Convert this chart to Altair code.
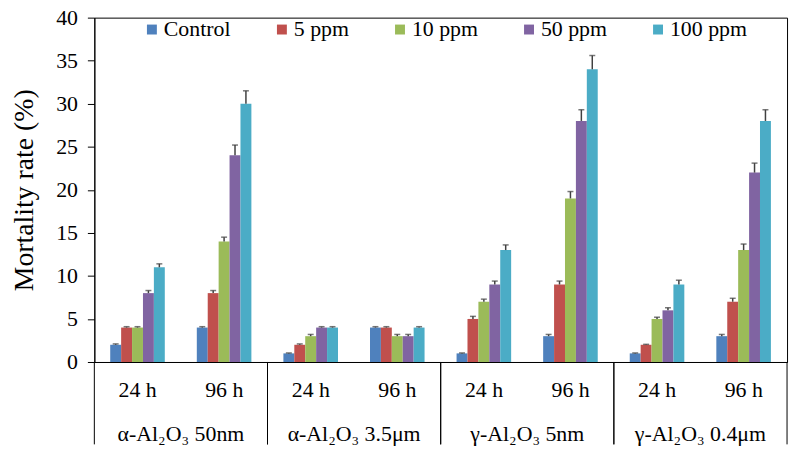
import altair as alt
import pandas as pd

groups = ["α-Al₂O₃ 50nm", "α-Al₂O₃ 3.5μm", "γ-Al₂O₃ 5nm", "γ-Al₂O₃ 0.4μm"]
times = ["24 h", "96 h"]
series = ["Control", "5 ppm", "10 ppm", "50 ppm", "100 ppm"]
colors = ["#4F81BD", "#C0504D", "#9BBB59", "#8064A2", "#4BACC6"]

# values in slot order: (group1 24h, group1 96h, group2 24h, ...)
control = [2, 4, 1, 4, 1, 3, 1, 3]
ppm5 = [4, 8, 2, 4, 5, 9, 2, 7]
ppm10 = [4, 14, 3, 3, 7, 19, 5, 13]
ppm50 = [8, 24, 4, 3, 9, 28, 6, 22]
ppm100 = [11, 30, 4, 4, 13, 34, 9, 28]

control_err = [0.1, 0.1, 0.05, 0.1, 0.05, 0.2, 0.05, 0.2]
ppm5_err = [0.1, 0.3, 0.1, 0.1, 0.3, 0.4, 0.05, 0.4]
ppm10_err = [0.1, 0.5, 0.2, 0.2, 0.3, 0.8, 0.2, 0.7]
ppm50_err = [0.3, 1.2, 0.1, 0.2, 0.4, 1.3, 0.3, 1.1]
ppm100_err = [0.4, 1.5, 0.1, 0.1, 0.6, 1.6, 0.5, 1.3]

values = [control, ppm5, ppm10, ppm50, ppm100]
errors = [control_err, ppm5_err, ppm10_err, ppm50_err, ppm100_err]

slots = [f"{g}|{t}" for g in groups for t in times]

rows = []
for s, vals, errs in zip(series, values, errors):
    for i, slot in enumerate(slots):
        rows.append({"slot": slot, "series": s, "value": vals[i], "upper": vals[i] + errs[i]})
df = pd.DataFrame(rows)

grp_df = pd.DataFrame({"slot": [f"{g}|24 h" for g in groups], "group": groups})
end_df = pd.DataFrame({"slot": [f"{g}|96 h" for g in groups]})

FONT = "Liberation Serif"
W, H = 698, 347

xscale = alt.Scale(domain=slots, paddingInner=0, paddingOuter=0)
xoff = alt.XOffset("series:N", sort=series,
                   scale=alt.Scale(domain=series, paddingInner=0, paddingOuter=0, range=[16, 71]))

x_axis = alt.Axis(
    title=None, ticks=False, labelAngle=0, labelFont=FONT, labelFontSize=22,
    labelColor="black", labelPadding=18, domainColor="black",
    labelExpr="split(datum.label, '|')[1]",
)
y_axis = alt.Axis(
    title="Mortality rate (%)", values=list(range(0, 41, 5)), grid=False,
    tickSize=7, tickColor="black", domainColor="black", labelFont=FONT,
    labelFontSize=22, labelColor="black", labelPadding=10,
    titleFont=FONT, titleFontSize=28, titleFontWeight="normal", titleColor="black",
    titlePadding=17,
)

bars = alt.Chart(df).mark_bar().encode(
    x=alt.X("slot:N", sort=slots, scale=xscale, axis=x_axis),
    xOffset=xoff,
    y=alt.Y("value:Q", scale=alt.Scale(domain=[0, 40], nice=False), axis=y_axis),
    color=alt.Color(
        "series:N", sort=series, scale=alt.Scale(domain=series, range=colors),
        legend=alt.Legend(
            title=None, orient="none", legendX=47, legendY=1, direction="horizontal",
            symbolType="square", symbolSize=100, symbolStrokeWidth=0,
            labelFont=FONT, labelFontSize=22, labelColor="black", labelOffset=1,
            columnPadding=40,
        ),
    ),
)

err_rule = alt.Chart(df).mark_rule(color="#404040", strokeWidth=1.5).encode(
    x=alt.X("slot:N", sort=slots, scale=xscale),
    xOffset=xoff,
    y="value:Q",
    y2="upper:Q",
)
err_cap = alt.Chart(df).mark_tick(color="#404040", thickness=1.5, size=6, orient="horizontal").encode(
    x=alt.X("slot:N", sort=slots, scale=xscale),
    xOffset=xoff,
    y="upper:Q",
)

sep_left = alt.Chart(grp_df).mark_rule(color="black", strokeWidth=1).encode(
    x=alt.X("slot:N", sort=slots, scale=xscale, bandPosition=0),
    y=alt.value(H),
    y2=alt.value(H + 83),
)
sep_right = alt.Chart(end_df).mark_rule(color="black", strokeWidth=1).encode(
    x=alt.X("slot:N", sort=slots, scale=xscale, bandPosition=1),
    y=alt.value(H),
    y2=alt.value(H + 83),
)
grp_text = alt.Chart(grp_df).mark_text(
    font=FONT, fontSize=22, color="black", baseline="middle", align="center"
).encode(
    x=alt.X("slot:N", sort=slots, scale=xscale, bandPosition=1),
    y=alt.value(H + 73),
    text="group:N",
)

chart = alt.layer(bars, err_rule, err_cap, sep_left, sep_right, grp_text).properties(
    width=W, height=H,
    autosize=alt.AutoSizeParams(type="none"),
    padding={"left": 87, "top": 8, "right": 5, "bottom": 90},
    background="white",
).configure_view(stroke="black", strokeWidth=1)

chart.save("out.html", embed_options={"renderer": "svg", "actions": False})
